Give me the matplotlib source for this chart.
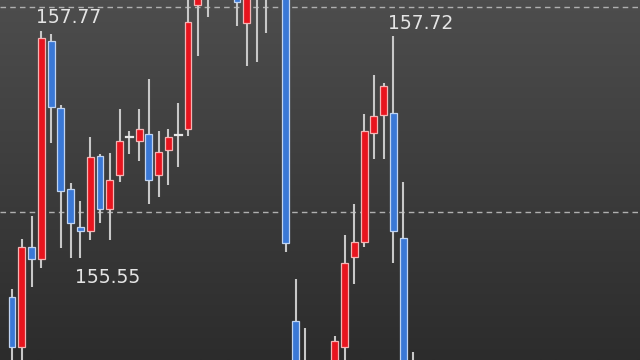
import numpy as np
import matplotlib
matplotlib.use("Agg")
import matplotlib.pyplot as plt
from matplotlib.patches import Rectangle
from matplotlib.colors import LinearSegmentedColormap

# candle slot index (gaps = candles outside the visible price window)
slot = [0, 1, 2, 3, 4, 5, 6, 7, 8, 9, 10, 11, 12, 13, 14, 15, 16, 17, 18, 19, 20,
        23, 24, 25, 26, 28, 29, 30, 33, 34, 35, 36, 37, 38, 39, 40, 41]
opens = [155.17, 154.68, 155.66, 155.54, 157.67, 157.01, 156.22, 155.85, 155.81, 156.55,
         156.03, 156.36, 156.73, 156.69, 156.76, 156.36, 156.60, 156.75, 156.81, 158.02,
         158.10, 158.20, 157.84, 158.30, 158.12, 158.40, 154.94, 154.50, 154.40, 154.68,
         155.56, 155.71, 156.77, 156.95, 156.97, 155.75, 154.50]
highs = [155.25, 155.74, 155.96, 157.77, 157.74, 157.04, 156.28, 156.11, 156.73, 156.57,
         156.58, 157.00, 156.79, 157.00, 157.30, 156.79, 156.81, 157.06, 158.10, 158.25,
         158.40, 158.30, 158.25, 158.35, 158.45, 158.45, 155.35, 154.87, 154.79, 155.78,
         156.08, 156.96, 157.34, 157.26, 157.72, 156.29, 154.63]
lows = [154.50, 154.45, 155.27, 155.45, 156.67, 155.65, 155.55, 155.55, 155.73, 155.89,
        155.73, 156.29, 156.57, 156.50, 156.08, 156.15, 156.26, 156.44, 156.74, 157.52,
        157.90, 157.81, 157.42, 157.46, 157.75, 155.61, 154.30, 154.10, 154.30, 154.45,
        155.30, 155.66, 156.52, 156.52, 155.50, 154.30, 154.20]
closes = [154.68, 155.66, 155.54, 157.70, 157.02, 156.20, 155.89, 155.81, 156.54, 156.03,
          156.31, 156.69, 156.73, 156.81, 156.31, 156.59, 156.73, 156.75, 157.85, 158.15,
          158.30, 158.05, 158.15, 158.12, 158.40, 155.70, 154.40, 154.20, 154.74, 155.50,
          155.71, 156.79, 156.94, 157.23, 155.81, 154.40, 154.30]

grid_levels = [158.00, 156.00]
# high / low markers: (label, slot, price, where)
marks = [("157.77", 3, 157.77, "above"), ("157.72", 39, 157.72, "above"),
         ("155.55", 7, 155.55, "below")]

UP = "#e8141e"
DOWN = "#3a78d6"
WICK = "#c8c8c8"

fig = plt.figure(figsize=(6.4, 3.6), dpi=100)
ax = fig.add_axes([0, 0, 1, 1])

x0, dx = 12, 9.78
xmin, xmax = (0 - x0) / dx, (640 - x0) / dx
ymin, ymax = 154.556, 158.068

# background gradient
bg = LinearSegmentedColormap.from_list("bg", ["#4d4d4d", "#2c2c2c"])
grad = np.linspace(0, 1, 256).reshape(-1, 1)
ax.imshow(grad, cmap=bg, aspect="auto", extent=[xmin, xmax, ymin, ymax],
          origin="upper", zorder=0)

for lvl in grid_levels:
    ax.axhline(lvl, color="#b0b0b0", lw=1, ls=(0, (4, 3)), zorder=1)

w = 0.7
for s, o, h, l, c in zip(slot, opens, highs, lows, closes):
    ax.plot([s, s], [l, h], color=WICK, lw=1.5, zorder=2, solid_capstyle="butt")
    if o == c:
        ax.plot([s - w / 2, s + w / 2], [o, o], color="#e8e8e8", lw=1.6, zorder=3)
        continue
    fill = UP if c > o else DOWN
    edge = "#f4b4b4" if c > o else "#c0d4f2"
    ax.add_patch(Rectangle((s - w / 2, min(o, c)), w, abs(c - o),
                           facecolor=fill, edgecolor=edge, lw=0.9, zorder=3))

for txt, s, p, where in marks:
    if where == "above":
        ax.text(s + 2.8, p + 0.03, txt, ha="center", va="bottom",
                color="#e4e4e4", fontsize=13.5)
    else:
        ax.text(s + 2.8, p - 0.10, txt, ha="center", va="top",
                color="#e4e4e4", fontsize=13.5)

ax.set_xlim(xmin, xmax)
ax.set_ylim(ymin, ymax)
ax.axis("off")

fig.savefig("out.png", dpi=100)
